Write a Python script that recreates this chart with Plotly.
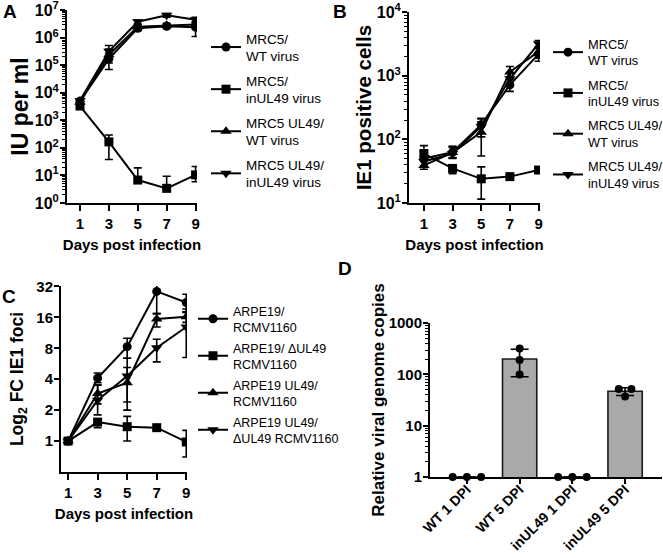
import plotly.graph_objects as go
import math

# ---------------- data ----------------
days = [1, 3, 5, 7, 9]

# Panel A: IU per ml
a_names = ["MRC5/<br>WT virus", "MRC5/<br>inUL49 virus", "MRC5 UL49/<br>WT virus", "MRC5 UL49/<br>inUL49 virus"]
a_wt = [5000, 170000, 2200000, 2600000, 2400000]
a_wt_up = [800, 100000, 400000, 400000, 1000000]
a_wt_dn = [800, 100000, 400000, 400000, 1300000]
a_in = [3300, 165, 6.8, 3.4, 10.5]
a_in_up = [800, 130, 12, 6, 10.5]
a_in_dn = [600, 127, 0, 0, 4.6]
a_ul_wt = [4500, 240000, 2500000, 2800000, 3000000]
a_ul_wt_up = [800, 150000, 500000, 500000, 800000]
a_ul_wt_dn = [800, 120000, 500000, 500000, 800000]
a_ul_in = [5200, 320000, 3800000, 6500000, 4500000]
a_ul_in_up = [800, 200000, 600000, 1000000, 1000000]
a_ul_in_dn = [800, 150000, 600000, 1000000, 1000000]

# Panel B: IE1 positive cells
b_wt = [50, 63, 170, 720, 2200]
b_wt_up = [15, 15, 45, 150, 500]
b_wt_dn = [12, 12, 60, 150, 500]
b_in = [60, 35, 24, 26, 33]
b_in_up = [20, 4, 13, 2, 2]
b_in_dn = [15, 6, 12.5, 2, 2]
b_ul_wt = [39, 62, 130, 1150, 2400]
b_ul_wt_up = [8, 15, 60, 250, 500]
b_ul_wt_dn = [5, 10, 75, 200, 500]
b_ul_in = [45, 60, 160, 900, 3200]
b_ul_in_up = [10, 15, 50, 200, 400]
b_ul_in_dn = [8, 10, 50, 200, 400]

# Panel C: Log2 FC IE1 foci
c_names = ["ARPE19/<br>RCMV1160", "ARPE19/ ΔUL49<br>RCMV1160", "ARPE19 UL49/<br>RCMV1160", "ARPE19 UL49/<br>ΔUL49 RCMV1160"]
c_wt = [1, 4.1, 8.3, 28.6, 22.3]
c_wt_up = [0, 0.5, 1.7, 6, 4.5]
c_wt_dn = [0, 0.4, 1.9, 11.2, 4.4]
c_del = [1, 1.53, 1.38, 1.35, 0.98]
c_del_up = [0, 0.12, 0.36, 0.05, 0.29]
c_del_dn = [0, 0.18, 0.38, 0.05, 0.28]
c_ul_wt = [1, 2.9, 3.7, 15.4, 16.2]
c_ul_wt_up = [0, 0.6, 1.5, 2, 1.9]
c_ul_wt_dn = [0, 0.6, 1.7, 2.5, 1.9]
c_ul_del = [1, 2.5, 4.3, 8.1, 12.9]
c_ul_del_up = [0, 1.0, 2.1, 1.7, 6.4]
c_ul_del_dn = [0, 0.7, 1.9, 2.2, 6.4]

# Panel D: relative viral genome copies
d_cats = ["WT 1 DPI", "WT 5 DPI", "inUL49 1 DPI", "inUL49 5 DPI"]
d_mean = [1, 200, 1, 47]
d_sd = [0, 110, 0, 8]
d_reps = [[1, 1, 1], [320, 192, 100], [1, 1, 1], [52, 52, 37]]

# ---------------- style ----------------
W, H = 663, 558
FONT = "Liberation Sans, Arial, Helvetica, sans-serif"
symbols = ["circle", "square", "triangle-up", "triangle-down"]
msizes = [9, 9, 10, 10]
EPS = 0.004


def px_x(p):
    return p / W


def px_y(p):
    return 1 - p / H


fig = go.Figure()


def add_series(xa, ya, vals, up, dn, name, i, legend):
    fig.add_trace(go.Scatter(
        x=days, y=vals, mode="lines+markers", name=name,
        xaxis=xa, yaxis=ya,
        line=dict(color="black", width=2),
        marker=dict(symbol=symbols[i], size=msizes[i], color="black"),
        error_y=dict(type="data", array=up, arrayminus=dn, color="black", thickness=1.6, width=4),
        legend=legend, legendgroup=legend + str(i),
    ))


a_sets = [(a_wt, a_wt_up, a_wt_dn), (a_in, a_in_up, a_in_dn), (a_ul_wt, a_ul_wt_up, a_ul_wt_dn), (a_ul_in, a_ul_in_up, a_ul_in_dn)]
for i, (v, u, d) in enumerate(a_sets):
    add_series("x", "y", v, u, d, a_names[i], i, "legend")

b_sets = [(b_wt, b_wt_up, b_wt_dn), (b_in, b_in_up, b_in_dn), (b_ul_wt, b_ul_wt_up, b_ul_wt_dn), (b_ul_in, b_ul_in_up, b_ul_in_dn)]
for i, (v, u, d) in enumerate(b_sets):
    add_series("x2", "y2", v, u, d, a_names[i], i, "legend2")

c_sets = [(c_wt, c_wt_up, c_wt_dn), (c_del, c_del_up, c_del_dn), (c_ul_wt, c_ul_wt_up, c_ul_wt_dn), (c_ul_del, c_ul_del_up, c_ul_del_dn)]
for i, (v, u, d) in enumerate(c_sets):
    add_series("x3", "y3", v, u, d, c_names[i], i, "legend3")

# Panel D bars
d_idx = list(range(len(d_cats)))
fig.add_trace(go.Bar(
    x=d_idx, y=d_mean, xaxis="x4", yaxis="y4", width=0.65,
    marker=dict(color="#a9a9a9", line=dict(color="#1a1a1a", width=1.6)),
    showlegend=False,
))
fig.add_trace(go.Scatter(
    x=d_idx, y=d_mean, xaxis="x4", yaxis="y4", mode="markers",
    marker=dict(size=1, color="rgba(0,0,0,0)"),
    error_y=dict(type="data", array=d_sd, arrayminus=d_sd, color="black", thickness=1.6, width=9),
    showlegend=False,
))
jitter = {0: [-0.27, 0.0, 0.27], 1: [0.0, 0.0, 0.0], 2: [-0.27, 0.0, 0.27], 3: [-0.12, 0.12, 0.0]}
px_, py_ = [], []
for k, reps in enumerate(d_reps):
    for j, r in enumerate(reps):
        px_.append(k + jitter[k][j])
        py_.append(r)
fig.add_trace(go.Scatter(
    x=px_, y=py_, xaxis="x4", yaxis="y4", mode="markers",
    marker=dict(size=8, color="black"), showlegend=False, cliponaxis=False,
))

axis_common = dict(
    showline=True, linecolor="black", linewidth=2, ticks="outside", tickwidth=2,
    ticklen=6, tickcolor="black", showgrid=False, zeroline=False, automargin=False,
    ticklabeloverflow="allow",
    tickfont=dict(family=FONT, size=15, color="black", weight="bold"),
)
yaxis_extra = dict(ticklen=5, ticklabelstandoff=-2)


def minor_vals(lo, hi):
    out = []
    for e in range(lo, hi):
        for m in range(2, 10):
            out.append(m * 10 ** e)
    return out


minor_style = dict(ticks="outside", ticklen=3, tickwidth=1.2, tickcolor="black")
xtitle = dict(text="Days post infection", font=dict(family=FONT, size=15, color="black", weight="bold"), standoff=8)

fig.update_layout(
    template="none",
    width=W, height=H, margin=dict(l=0, r=0, t=0, b=0, autoexpand=False), autosize=False,
    paper_bgcolor="white", plot_bgcolor="white",
    font=dict(family=FONT, color="black"),
    xaxis=dict(axis_common, domain=[px_x(67), px_x(197)], range=[0.1, 9.1], tickvals=days,
               anchor="y", title=xtitle),
    yaxis=dict(axis_common, **yaxis_extra, domain=[px_y(203), px_y(10)], type="log", range=[0, 7 + EPS], anchor="x",
               tickvals=[10 ** k for k in range(8)], ticktext=["10<sup>%d</sup>" % k for k in range(8)],
               tickfont=dict(family=FONT, size=16, color="black", weight="bold"),
               minor=dict(minor_style, tickvals=minor_vals(0, 7)),
               title=dict(text="IU per ml", font=dict(family=FONT, size=23, color="black", weight="bold"), standoff=0)),
    xaxis2=dict(axis_common, domain=[px_x(409), px_x(540)], range=[-0.04, 9.1], tickvals=days,
                anchor="y2", title=xtitle),
    yaxis2=dict(axis_common, **yaxis_extra, domain=[px_y(203), px_y(12)], type="log", range=[1, 4 + EPS], anchor="x2",
                tickvals=[10 ** k for k in range(1, 5)], ticktext=["10<sup>%d</sup>" % k for k in range(1, 5)],
                tickfont=dict(family=FONT, size=16, color="black", weight="bold"),
                minor=dict(minor_style, tickvals=minor_vals(1, 4)),
                title=dict(text="IE1 positive cells", font=dict(family=FONT, size=20.5, color="black", weight="bold"), standoff=0)),
    xaxis3=dict(axis_common, domain=[px_x(61), px_x(187)], range=[0.52, 9.05], tickvals=days,
                anchor="y3", title=dict(xtitle, standoff=8)),
    yaxis3=dict(axis_common, **yaxis_extra, domain=[px_y(472), px_y(286)], type="log",
                range=[math.log10(0.5), math.log10(32) + EPS], anchor="x3",
                tickvals=[1, 2, 4, 8, 16, 32], ticktext=["1", "2", "4", "8", "16", "32"],
                title=dict(text="Log<sub>2</sub> FC IE1 foci", font=dict(family=FONT, size=17.5, color="black", weight="bold"), standoff=8)),
    xaxis4=dict(axis_common, domain=[px_x(430), px_x(662)], range=[-0.7, 3.7], anchor="y4",
                tickvals=d_idx, ticktext=d_cats, tickangle=-45, ticklen=5, ticklabelstandoff=-8,
                tickfont=dict(family=FONT, size=14, color="black", weight="bold")),
    yaxis4=dict(axis_common, **yaxis_extra, domain=[px_y(477), px_y(323)], type="log", range=[0, 3 + EPS], anchor="x4",
                tickvals=[1, 10, 100, 1000], ticktext=["1", "10", "100", "1000"],
                minor=dict(minor_style, tickvals=minor_vals(0, 3)),
                title=dict(text="Relative viral genome copies", font=dict(family=FONT, size=17, color="black", weight="bold"), standoff=0)),
    legend=dict(x=px_x(206), y=px_y(23), xanchor="left", yanchor="top", bgcolor="rgba(0,0,0,0)",
                font=dict(family=FONT, size=13.5, color="black"), tracegroupgap=4, itemclick=False),
    legend2=dict(x=px_x(548), y=px_y(29), xanchor="left", yanchor="top", bgcolor="rgba(0,0,0,0)",
                 font=dict(family=FONT, size=12.8, color="black"), tracegroupgap=4.5, itemclick=False),
    legend3=dict(x=px_x(193), y=px_y(296), xanchor="left", yanchor="top", bgcolor="rgba(0,0,0,0)",
                 font=dict(family=FONT, size=12.5, color="black"), tracegroupgap=1.5, itemclick=False),
    bargap=0.35,
)

for txt, x, y in [("A", 10, 12), ("B", 340, 12), ("C", 9, 296), ("D", 345, 268)]:
    fig.add_annotation(text=txt, x=px_x(x), y=px_y(y), xref="paper", yref="paper", showarrow=False,
                       xanchor="center", yanchor="middle",
                       font=dict(family=FONT, size=19, color="black", weight="bold"))

fig.write_html("out.html", config={"displayModeBar": False},
               post_script="document.body.style.margin='0px';document.body.style.padding='0px';")
